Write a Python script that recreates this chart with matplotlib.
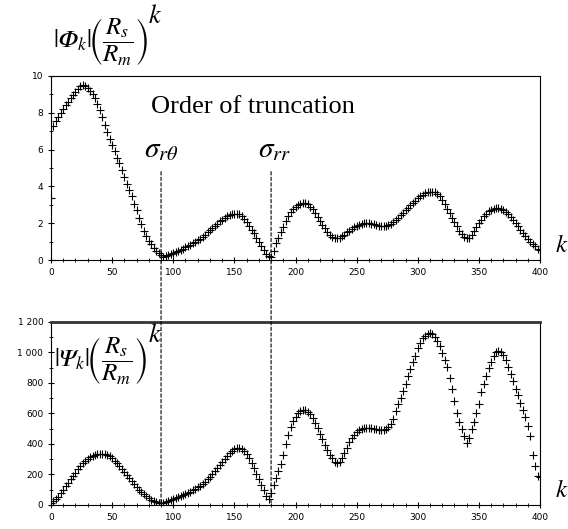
import matplotlib
matplotlib.use("Agg")
import matplotlib.pyplot as plt
from matplotlib.patches import ConnectionPatch
from matplotlib.ticker import MultipleLocator, FuncFormatter
import numpy as np

plt.rcParams['mathtext.fontset'] = 'stix'
plt.rcParams['font.family'] = 'DejaVu Sans'

# truncation order k (every 2nd order)
k = np.arange(0, 401, 2)

# |Phi_k| (Rs/Rm)^k
phi = [3.35, 7.3, 7.55, 7.75, 8.0, 8.2, 8.4, 8.6, 8.78, 8.95,
       9.15, 9.3, 9.45, 9.5, 9.45, 9.35, 9.2, 9.0, 8.8, 8.5,
       8.15, 7.75, 7.35, 6.95, 6.6, 6.25, 5.9, 5.55, 5.25, 4.9,
       4.5, 4.15, 3.8, 3.45, 3.05, 2.7, 2.3, 1.95, 1.6, 1.3,
       1.05, 0.85, 0.65, 0.5, 0.38, 0.25, 0.18, 0.2, 0.26, 0.32,
       0.38, 0.44, 0.5, 0.56, 0.62, 0.68, 0.75, 0.82, 0.9, 0.98,
       1.06, 1.15, 1.26, 1.38, 1.5, 1.62, 1.74, 1.86, 1.98, 2.1,
       2.2, 2.3, 2.38, 2.45, 2.5, 2.52, 2.52, 2.48, 2.38, 2.22,
       2.05, 1.85, 1.65, 1.45, 1.22, 1.0, 0.78, 0.55, 0.35, 0.2,
       0.15, 0.5, 0.9, 1.2, 1.5, 1.8, 2.1, 2.38, 2.6, 2.78,
       2.9, 3.0, 3.06, 3.08, 3.08, 3.02, 2.9, 2.75, 2.55, 2.35,
       2.13, 1.92, 1.72, 1.52, 1.38, 1.27, 1.2, 1.18, 1.2, 1.28,
       1.38, 1.5, 1.6, 1.7, 1.78, 1.85, 1.92, 1.97, 2.0, 2.0,
       2.0, 1.97, 1.93, 1.9, 1.87, 1.85, 1.83, 1.84, 1.88, 1.95,
       2.05, 2.15, 2.28, 2.42, 2.55, 2.7, 2.85, 2.98, 3.1, 3.22,
       3.35, 3.45, 3.55, 3.62, 3.68, 3.72, 3.72, 3.68, 3.6, 3.45,
       3.25, 3.02, 2.78, 2.55, 2.3, 2.05, 1.82, 1.6, 1.4, 1.25,
       1.17, 1.2, 1.35, 1.55, 1.78, 2.0, 2.2, 2.38, 2.52, 2.64,
       2.72, 2.78, 2.8, 2.8, 2.78, 2.72, 2.62, 2.5, 2.35, 2.18,
       2.0, 1.82, 1.65, 1.48, 1.32, 1.15, 1.0, 0.88, 0.75, 0.62,
       0.52]

# |Psi_k| (Rs/Rm)^k
psi = [15, 25, 40, 55, 78, 100, 122, 145, 168, 190,
       212, 235, 255, 272, 290, 303, 315, 324, 330, 334,
       336, 336, 333, 327, 318, 305, 290, 272, 253, 235,
       215, 195, 175, 155, 135, 117, 100, 84, 70, 57,
       45, 35, 27, 20, 16, 14, 16, 22, 28, 34,
       40, 46, 52, 58, 65, 72, 78, 86, 95, 104,
       115, 126, 138, 152, 168, 185, 204, 222, 242, 262,
       282, 302, 322, 340, 355, 366, 372, 372, 365, 352,
       332, 305, 272, 240, 205, 170, 132, 95, 60, 42,
       80, 130, 180, 225, 270, 330, 400, 460, 510, 550,
       580, 602, 615, 622, 622, 612, 595, 570, 540, 505,
       468, 430, 395, 360, 330, 305, 285, 278, 285, 310,
       340, 375, 410, 438, 460, 478, 490, 498, 503, 506,
       506, 504, 500, 497, 494, 492, 492, 496, 508, 530,
       565, 615, 660, 700, 745, 795, 845, 890, 935, 980,
       1030, 1065, 1092, 1110, 1120, 1125, 1118, 1102, 1075, 1040,
       995, 950, 905, 830, 760, 680, 605, 545, 500, 450,
       405, 440, 495, 545, 600, 665, 740, 790, 845, 895,
       940, 975, 1000, 1010, 1000, 982, 950, 905, 860, 810,
       760, 720, 670, 625, 580, 520, 450, 330, 255, 190,
       185]

sigma_orders = [90, 180]

fig = plt.figure(figsize=(5.68, 5.29), dpi=100)
ax1 = fig.add_axes([0.0898, 0.5085, 0.861, 0.348])
ax2 = fig.add_axes([0.0898, 0.0454, 0.861, 0.346])

ax1.plot(k, phi, '+', color='black', markersize=6, markeredgewidth=0.8)
ax2.plot(k, psi, '+', color='black', markersize=6, markeredgewidth=0.8)

ax1.set_ylim(0, 10)
ax2.set_ylim(0, 1200)
for ax in (ax1, ax2):
    ax.set_xlim(0, 400)
    ax.xaxis.set_major_locator(MultipleLocator(50))
    ax.xaxis.set_minor_locator(MultipleLocator(10))
    ax.tick_params(which='major', direction='inout', length=5, width=0.8,
                   labelsize=6.5, pad=3)
    ax.tick_params(which='minor', direction='inout', length=3, width=0.6)
    for s in ax.spines.values():
        s.set_linewidth(0.8)
ax1.yaxis.set_major_locator(MultipleLocator(2))
ax1.yaxis.set_minor_locator(MultipleLocator(1))
ax2.yaxis.set_major_locator(MultipleLocator(200))
ax2.yaxis.set_minor_locator(MultipleLocator(100))
ax2.yaxis.set_major_formatter(FuncFormatter(lambda v, p: f"{int(v):,}".replace(",", " ")))
ax2.spines['top'].set_linewidth(2)
ax2.spines['top'].set_color('#333333')

# dashed truncation markers across both panels
for s in sigma_orders:
    con = ConnectionPatch(xyA=(s, 4.8), coordsA=ax1.transData,
                          xyB=(s, 0), coordsB=ax2.transData,
                          linestyle=(0, (3, 2)), linewidth=0.8, color='black')
    fig.add_artist(con)

ax1.text(165, 8.3, 'Order of truncation', family='Liberation Serif',
         fontsize=19, ha='center', va='center')
ax1.text(90, 6.0, r'$\sigma_{r\theta}$', fontsize=21, ha='center', va='center')
ax1.text(183, 6.0, r'$\sigma_{rr}$', fontsize=21, ha='center', va='center')

# y labels, with the big exponent k set apart
fig.text(0.093, 0.922, r'$|𝛷_k|\!\left(\dfrac{R_s}{R_m}\right)$',
         fontsize=18, ha='left', va='center')
fig.text(0.261, 0.970, r'$k$', fontsize=19, ha='left', va='center')
ax2.text(0.006, 0.79, r'$|𝛹_k|\!\left(\dfrac{R_s}{R_m}\right)$',
         transform=ax2.transAxes, fontsize=18, ha='left', va='center')
ax2.text(0.198, 0.93, r'$k$', transform=ax2.transAxes, fontsize=19,
         ha='left', va='center')

ax1.text(1.045, 0.08, r'$k$', transform=ax1.transAxes, fontsize=18,
         ha='center', va='center')
ax2.text(1.045, 0.08, r'$k$', transform=ax2.transAxes, fontsize=18,
         ha='center', va='center')

fig.savefig('out.png', dpi=100)
